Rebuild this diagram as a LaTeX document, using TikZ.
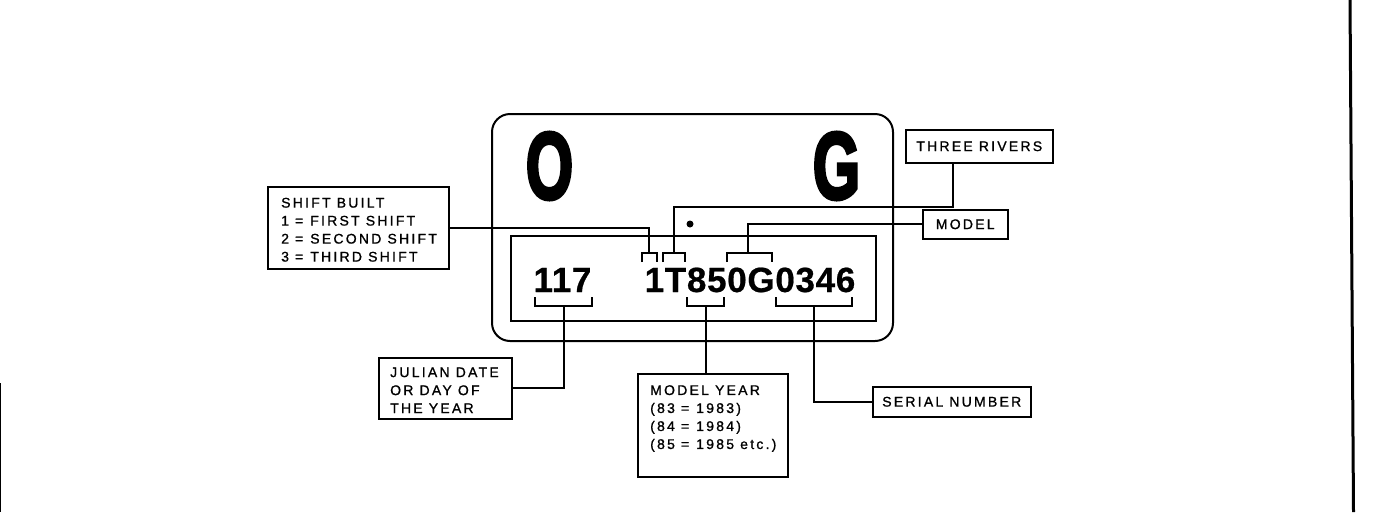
\documentclass[tikz,border=0pt]{standalone}
\usepackage{fontspec}
\setmainfont{Liberation Sans}
\newfontfamily\lblfont{Liberation Sans}[LetterSpace=16,FakeBold=1]
\newfontfamily\heavyfont{Liberation Sans Bold}[FakeBold=4]
\newfontfamily\codefont{Liberation Sans Bold}[FakeBold=0.6,LetterSpace=2]
\begin{document}
\begin{tikzpicture}[x=1pt,y=-1pt,
  plate/.style={line width=2pt},
  conn/.style={line width=2pt},
  brk/.style={line width=2pt},
  lblbox/.style={draw, line width=1.5pt, inner sep=0pt},
  lbltext/.style={inner sep=0pt, align=left, font=\lblfont\fontsize{14}{18}\selectfont},
  big/.style={inner sep=0pt, font=\heavyfont\fontsize{95}{95}\selectfont},
  code/.style={inner sep=0pt, font=\codefont\fontsize{35}{35}\selectfont},
]
\useasboundingbox (0,0) rectangle (1376,512);
% scan border lines
\draw[line width=3pt] (1350,0) -- (1353.5,512);
\draw[line width=1.2pt] (0.8,383) -- (0.8,512);

% plate
\draw[plate, rounded corners=18pt] (492,114) rectangle (893,341);
\draw[plate] (511,236) rectangle (876,321);
\node[big] (bigO) at (549.5,166) {\scalebox{0.64}[1]{O}};
\node[big] (bigG) at (836.5,166) {\scalebox{0.64}[1]{G}};
\fill (690,224) circle (3.5pt);
\node[code, anchor=base] (date) at (562.5,292) {117};
\node[code, anchor=base] (vin) at (750,292) {1T850G0346};

% brackets
\draw[brk] (642,262) -- (642,253) -- (657,253) -- (657,262);
\draw[brk] (663,262) -- (663,253) -- (685,253) -- (685,262);
\draw[brk] (727,262) -- (727,253) -- (772,253) -- (772,262);
\draw[brk] (535,297) -- (535,306) -- (592,306) -- (592,297);
\draw[brk] (687,297) -- (687,306) -- (724,306) -- (724,297);
\draw[brk] (776,297) -- (776,306) -- (852,306) -- (852,297);
\coordinate (b1) at (649,253);
\coordinate (bT) at (674,253);
\coordinate (bM) at (748,253);
\coordinate (b117) at (563.5,306);
\coordinate (b850) at (706,306);
\coordinate (b0346) at (814,306);

% label boxes
\node[lblbox, anchor=north west, minimum width=181pt, minimum height=82pt] (shift) at (267,186) {};
\node[lbltext, anchor=west] (shifttext) at ([xshift=14pt,yshift=-2pt]shift.west)
  {SHIFT BUILT\\1 =\enspace FIRST SHIFT\\2 =\enspace SECOND SHIFT\\3 =\enspace THIRD SHIFT};
\node[lblbox, anchor=north west, minimum width=147pt, minimum height=33pt, font=\lblfont\fontsize{14}{18}\selectfont] (three) at (905,129) {THREE RIVERS};
\node[lblbox, anchor=north west, minimum width=85pt, minimum height=29pt, font=\lblfont\fontsize{14}{18}\selectfont] (model) at (922,209) {MODEL};
\node[lblbox, anchor=north west, minimum width=133pt, minimum height=61pt] (julian) at (378,357) {};
\node[lbltext, anchor=west] (juliantext) at ([xshift=12pt,yshift=-2pt]julian.west)
  {JULIAN DATE\\OR DAY OF\\THE YEAR};
\node[lblbox, anchor=north west, minimum width=150pt, minimum height=103pt] (myear) at (637,373) {};
\node[lbltext, anchor=north west] (myeartext) at ([xshift=13pt,yshift=-12pt]myear.north west)
  {MODEL YEAR\\(83 =\enspace 1983)\\(84 =\enspace 1984)\\(85 =\enspace 1985 etc.)};
\node[lblbox, anchor=north west, minimum width=158pt, minimum height=30pt, font=\lblfont\fontsize{14}{18}\selectfont] (serial) at (872,386) {SERIAL NUMBER};

% connectors
\draw[conn] (shift.east) -| (b1);
\draw[conn] ([xshift=-26.5pt]three.south) |- ([yshift=46pt]bT) -- (bT);
\draw[conn] (model.west) -| (bM);
\draw[conn] (b117) |- (julian.east);
\draw[conn] (b850) -- (b850 |- myear.north);
\draw[conn] (b0346) |- (serial.west);
\end{tikzpicture}
\end{document}
